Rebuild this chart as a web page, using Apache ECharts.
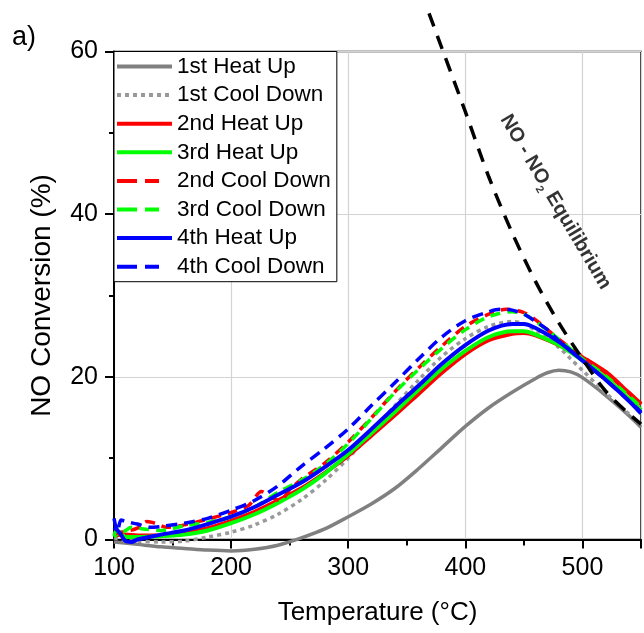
<!DOCTYPE html>
<html><head><meta charset="utf-8">
<script src="https://cdn.jsdelivr.net/npm/echarts@6/dist/echarts.min.js"></script>
<style>html,body{margin:0;padding:0;background:#fff}#c{width:644px;height:633px}</style>
</head><body><div id="c"></div>
<script>
const FONT = 'Liberation Sans, Arial, sans-serif';
const xMin = 100, xMax = 550, xInterval = 100;
const yMin = 0, yMax = 60, yInterval = 20;

const heat1 = [[100,-0.3],[120,-0.6],[140,-0.9],[160,-1.1],[180,-1.3],[200,-1.4],[220,-1.2],[240,-0.7],[260,0.2],[280,1.3],[300,2.8],[320,4.4],[340,6.3],[360,8.7],[380,11.3],[400,13.9],[420,16.2],[440,18.1],[460,19.8],[470,20.5],[480,20.8],[490,20.6],[500,19.9],[520,17.7],[540,15.2],[550,13.8]];
const cool1 = [[100,0.2],[110,-0.1],[120,-0.2],[140,-0.3],[160,-0.2],[180,0.3],[200,0.9],[220,1.8],[240,3.1],[260,4.9],[280,7.2],[300,10.0],[320,13.2],[340,16.5],[360,19.6],[380,22.5],[400,24.7],[420,26.2],[440,26.8],[450,26.5],[460,25.7],[480,23.6],[490,22.2],[500,20.8],[520,18.0],[540,15.4],[550,14.2]];
const heat2 = [[100,0.5],[110,0.6],[120,0.5],[140,0.5],[160,0.8],[180,1.4],[200,2.3],[220,3.4],[240,4.8],[260,6.3],[280,8.2],[300,10.3],[320,12.8],[340,15.3],[360,17.9],[380,20.5],[400,22.8],[420,24.5],[440,25.3],[450,25.4],[460,25.1],[480,23.9],[500,22.4],[520,20.6],[540,18.0],[550,16.7]];
const heat3 = [[100,0.3],[105,0.9],[110,0.3],[120,0.3],[140,0.4],[160,0.6],[180,1.1],[200,2.0],[220,3.1],[240,4.5],[260,6.1],[280,8.1],[300,10.5],[320,13.1],[340,15.7],[360,18.4],[380,21.0],[400,23.2],[420,24.9],[440,25.6],[450,25.6],[460,25.2],[480,23.9],[500,22.0],[520,19.9],[540,17.3],[550,15.9]];
const cool2 = [[100,0.7],[110,1.0],[120,1.4],[128,2.2],[135,2.0],[145,1.5],[160,1.8],[180,2.5],[200,3.3],[215,4.2],[226,5.9],[234,5.2],[242,4.8],[250,6.1],[260,7.4],[280,9.4],[300,12.0],[320,15.0],[340,18.2],[360,21.1],[380,23.8],[400,26.2],[420,27.7],[435,28.3],[450,27.9],[460,27.0],[480,24.6],[500,22.5],[520,20.5],[540,18.0],[550,16.6]];
const cool3 = [[100,0.5],[104,1.6],[108,1.0],[115,1.5],[125,1.3],[140,1.1],[160,1.7],[180,2.1],[200,2.8],[220,4.0],[240,5.8],[260,7.3],[280,9.2],[300,11.8],[320,14.9],[340,18.1],[360,20.9],[380,23.5],[400,25.8],[420,27.4],[440,28.0],[450,27.7],[460,26.8],[480,24.6],[500,22.2],[520,20.1],[540,17.6],[550,16.3]];
const heat4 = [[100,1.5],[105,0.8],[110,-0.2],[115,-0.3],[120,0.0],[130,0.3],[140,0.6],[160,1.1],[180,1.9],[200,2.8],[220,4.0],[240,5.5],[260,7.0],[280,8.9],[300,11.0],[320,13.6],[340,16.3],[360,18.9],[380,21.6],[400,23.9],[420,25.7],[440,26.5],[450,26.5],[460,26.0],[480,24.3],[500,22.0],[520,19.6],[540,17.0],[550,15.5]];
const cool4 = [[100,2.6],[103,1.0],[106,2.4],[110,2.2],[120,1.9],[130,1.5],[140,1.6],[160,2.0],[180,2.6],[200,3.6],[220,4.8],[240,6.6],[260,9.0],[280,11.2],[300,13.6],[320,16.5],[340,19.3],[360,22.2],[380,24.9],[400,26.9],[420,28.0],[430,28.3],[440,28.2],[450,27.7],[460,26.8],[470,25.8],[480,24.4],[500,22.0],[520,19.6],[540,17.0],[550,15.7]];
const equilibrium = [[369,64.7],[380,60.4],[400,52.6],[420,44.6],[440,37.7],[460,31.7],[480,26.6],[500,22.2],[520,18.2],[540,15.4],[550,14.2]];
const eqLabelPos = [477, 41.5];

const names = ['1st Heat Up','1st Cool Down','2nd Heat Up','3rd Heat Up','2nd Cool Down','3rd Cool Down','4th Heat Up','4th Cool Down'];

function line(name, data, color, width, type) {
  return { name, type: 'line', data, symbol: 'none', smooth: 0.3, clip: false,
    lineStyle: { color, width, type }, itemStyle: { color }, animation: false };
}

const series = [
  line(names[0], heat1, '#808080', 3.5, 'solid'),
  line(names[1], cool1, '#999999', 3.5, [4, 4]),
  line(names[2], heat2, '#ff0000', 4, 'solid'),
  line(names[3], heat3, '#00ff00', 4, 'solid'),
  line(names[4], cool2, '#ff0000', 3.5, [10, 7]),
  line(names[5], cool3, '#00ff00', 3.5, [10, 7]),
  line(names[6], heat4, '#0000ff', 4, 'solid'),
  line(names[7], cool4, '#0000ff', 3.5, [11, 7]),
  line('NO - NO2 Equilibrium', equilibrium, '#000000', 3.5, [14, 10]),
  { type: 'scatter', data: [eqLabelPos], symbolSize: 0, silent: true, animation: false,
    label: { show: true, position: 'inside', rotate: -59.4,
      formatter: '{a|NO - NO}{s|2}{a| Equilibrium}',
      rich: {
        a: { fontFamily: FONT, fontWeight: 'bold', fontSize: 20, color: '#000', lineHeight: 26 },
        s: { fontFamily: FONT, fontWeight: 'bold', fontSize: 11, color: '#000', lineHeight: 12, verticalAlign: 'bottom' }
      } } }
];

const dashLegend = [20, 8, 14, 100];
const chart = echarts.init(document.getElementById('c'), null, { renderer: 'canvas' });
chart.setOption({
  animation: false,
  backgroundColor: '#fff',
  grid: { left: 114, right: 1.5, top: 51.5, bottom: 93.5, show: true, borderColor: '#000', borderWidth: 1.5, backgroundColor: 'transparent' },
  xAxis: {
    type: 'value', min: xMin, max: xMax, interval: xInterval,
    name: 'Temperature (°C)', nameLocation: 'middle', nameGap: 60,
    nameTextStyle: { fontFamily: FONT, fontSize: 26, color: '#000' },
    axisLine: { lineStyle: { color: '#000', width: 2 } },
    axisTick: { inside: false, length: 9, lineStyle: { color: '#000', width: 2 } },
    minorTick: { show: true, splitNumber: 2, length: 6, lineStyle: { color: '#000', width: 2 } },
    axisLabel: { fontFamily: FONT, fontSize: 25, color: '#000', margin: 16,
      formatter: v => (v > 500 ? '' : String(v)) },
    splitLine: { show: true, lineStyle: { color: '#d3d3d3', width: 1.2 } }
  },
  yAxis: {
    type: 'value', min: yMin, max: yMax, interval: yInterval,
    name: 'NO Conversion (%)', nameLocation: 'middle', nameGap: 58,
    nameTextStyle: { fontFamily: FONT, fontSize: 28, color: '#000' },
    axisLine: { lineStyle: { color: '#000', width: 2 } },
    axisTick: { inside: false, length: 9, lineStyle: { color: '#000', width: 2 } },
    minorTick: { show: true, splitNumber: 2, length: 5, lineStyle: { color: '#000', width: 2 } },
    axisLabel: { fontFamily: FONT, fontSize: 25, color: '#000', margin: 16 },
    splitLine: { show: true, lineStyle: { color: '#d3d3d3', width: 1.2 } }
  },
  legend: {
    orient: 'vertical', left: 114, top: 51.5, selectedMode: false,
    backgroundColor: '#fff', borderColor: '#000', borderWidth: 1, borderRadius: 0,
    padding: [3, 6, 3, 1], itemGap: 4.6, itemWidth: 55, itemHeight: 12,
    itemStyle: { opacity: 0, borderWidth: 0 },
    lineStyle: { width: 4 },
    textStyle: { fontFamily: FONT, fontSize: 22.5, color: '#000', lineHeight: 24 },
    data: [
      { name: names[0] },
      { name: names[1], lineStyle: { type: [4, 4] } },
      { name: names[2] },
      { name: names[3] },
      { name: names[4], lineStyle: { type: dashLegend } },
      { name: names[5], lineStyle: { type: dashLegend } },
      { name: names[6] },
      { name: names[7], lineStyle: { type: dashLegend } }
    ]
  },
  graphic: [{ type: 'text', left: 12, top: 24, style: { text: 'a)', fontFamily: FONT, fontSize: 27, fill: '#000' } }],
  series
});
</script></body></html>
